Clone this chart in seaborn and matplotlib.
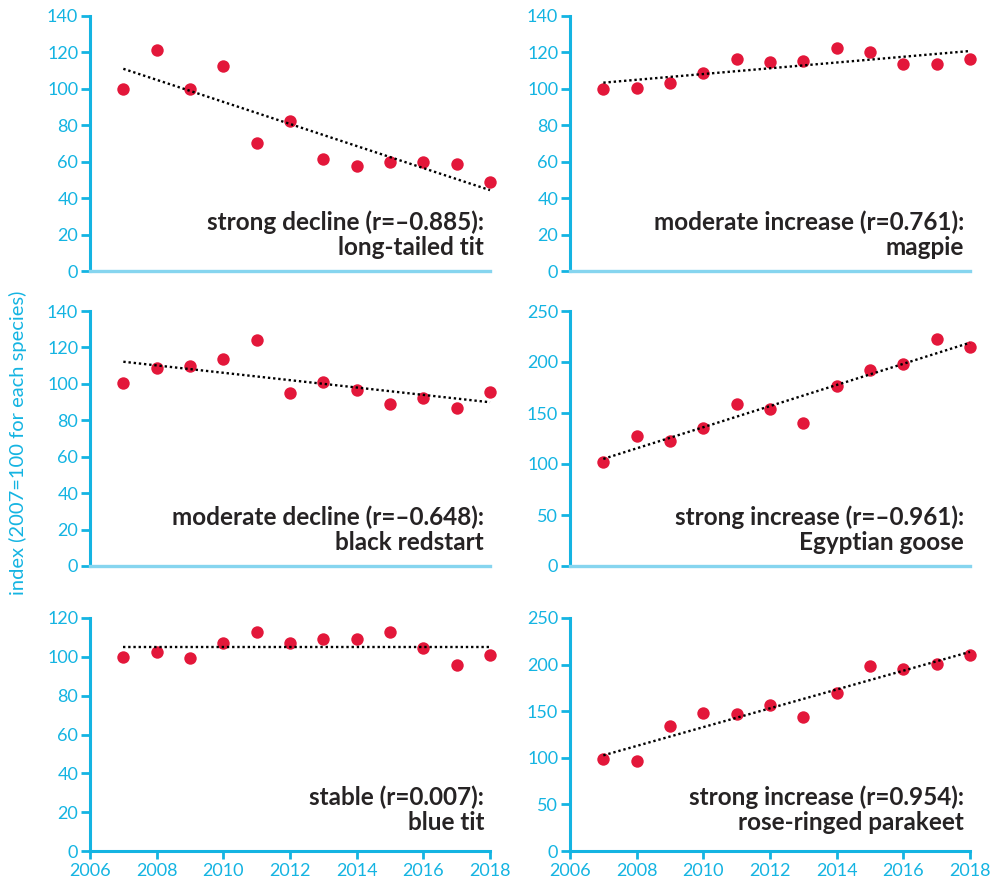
import numpy as np
import pandas as pd
import matplotlib
matplotlib.use('Agg')
import matplotlib.pyplot as plt
import seaborn as sns

years = list(range(2007, 2019))

long_tailed_tit = [100, 121.5, 100, 112.4, 70.3, 82.1, 61.6, 57.6, 59.6, 59.7, 58.8, 48.8]
magpie = [100, 100.4, 103.1, 108.6, 116.2, 114.9, 115.3, 122.6, 120.4, 113.5, 113.5, 116.6]
black_redstart = [100.4, 108.8, 109.9, 113.5, 124.2, 94.8, 101, 96.6, 88.8, 92.4, 86.6, 95.3]
egyptian_goose = [101.5, 127, 123, 135, 158.5, 154, 140, 176, 192.5, 198.5, 222.5, 215]
blue_tit = [100.1, 102.7, 99.4, 107.3, 113, 107, 109.4, 109, 112.6, 104.5, 96, 100.8]
parakeet = [98.7, 96.2, 134.5, 148.4, 147, 156.7, 143.4, 169.2, 198.5, 194.9, 200.3, 209.9]

labels = [
    "strong decline (r=\u20130.885):\nlong-tailed tit",
    "moderate increase (r=0.761):\nmagpie",
    "moderate decline (r=\u20130.648):\nblack redstart",
    "strong increase (r=\u20130.961):\nEgyptian goose",
    "stable (r=0.007):\nblue tit",
    "strong increase (r=0.954):\nrose-ringed parakeet",
]
series = [long_tailed_tit, magpie, black_redstart, egyptian_goose, blue_tit, parakeet]
ymax = [140, 140, 140, 250, 120, 250]
ystep = [20, 20, 20, 50, 20, 50]

cyan = '#14b4e2'
light_cyan = '#86d5ef'
red = '#e3173a'
dark = '#262324'

sns.set_style('white')
plt.rcParams['font.family'] = ['Lato', 'DejaVu Sans']

W, H = 993, 885
fig = plt.figure(figsize=(W / 100, H / 100), dpi=100)

# pixel boxes: (left, bottom y, top y)
lefts = [90, 570]
rows = [(271, 16), (566, 311), (851, 618)]
text_y = [0.063, 0.063, 0.063, 0.063, 0.09, 0.09]

for i, vals in enumerate(series):
    r, c = divmod(i, 2)
    yb, yt = rows[r]
    ax = fig.add_axes([lefts[c] / W, (H - yb) / H, 400 / W, (yb - yt) / H])
    df = pd.DataFrame({'year': years, 'index': vals})
    sns.regplot(data=df, x='year', y='index', ax=ax, ci=None,
                scatter_kws=dict(s=80, color=red, linewidths=0, alpha=1, clip_on=False, zorder=3),
                line_kws=dict(color='black', lw=1.7, ls=(0, (1, 1.2)), clip_on=False, zorder=4))
    ax.set_xlim(2006, 2018)
    ax.set_ylim(0, ymax[i])
    ax.set_yticks(np.arange(0, ymax[i] + 1, ystep[i]))
    ax.set_xlabel('')
    ax.set_ylabel('')
    for s in ['top', 'right']:
        ax.spines[s].set_visible(False)
    ax.spines['left'].set_color(cyan)
    ax.spines['left'].set_linewidth(2.2)
    ax.tick_params(axis='y', colors=cyan, labelcolor=cyan, length=6.5, width=2,
                   pad=2, labelsize=13, left=True)
    if r == 2:
        ax.spines['bottom'].set_color(cyan)
        ax.spines['bottom'].set_linewidth(2.2)
        ax.set_xticks(range(2006, 2019, 2))
        ax.tick_params(axis='x', colors=cyan, labelcolor=cyan, length=6, width=2,
                       pad=3, labelsize=13, bottom=True)
    else:
        ax.spines['bottom'].set_color(light_cyan)
        ax.spines['bottom'].set_linewidth(2.4)
        ax.set_xticks([])
    ax.text(0.985, text_y[i], labels[i], transform=ax.transAxes, ha='right', va='baseline',
            fontsize=17.5, fontweight='bold', color=dark, linespacing=1.12, multialignment='right')

fig.text(0.018, 0.5, 'index (2007=100 for each species)', rotation=90, ha='center', va='center',
         color=cyan, fontsize=14.5)

fig.savefig('out.png', dpi=100)
